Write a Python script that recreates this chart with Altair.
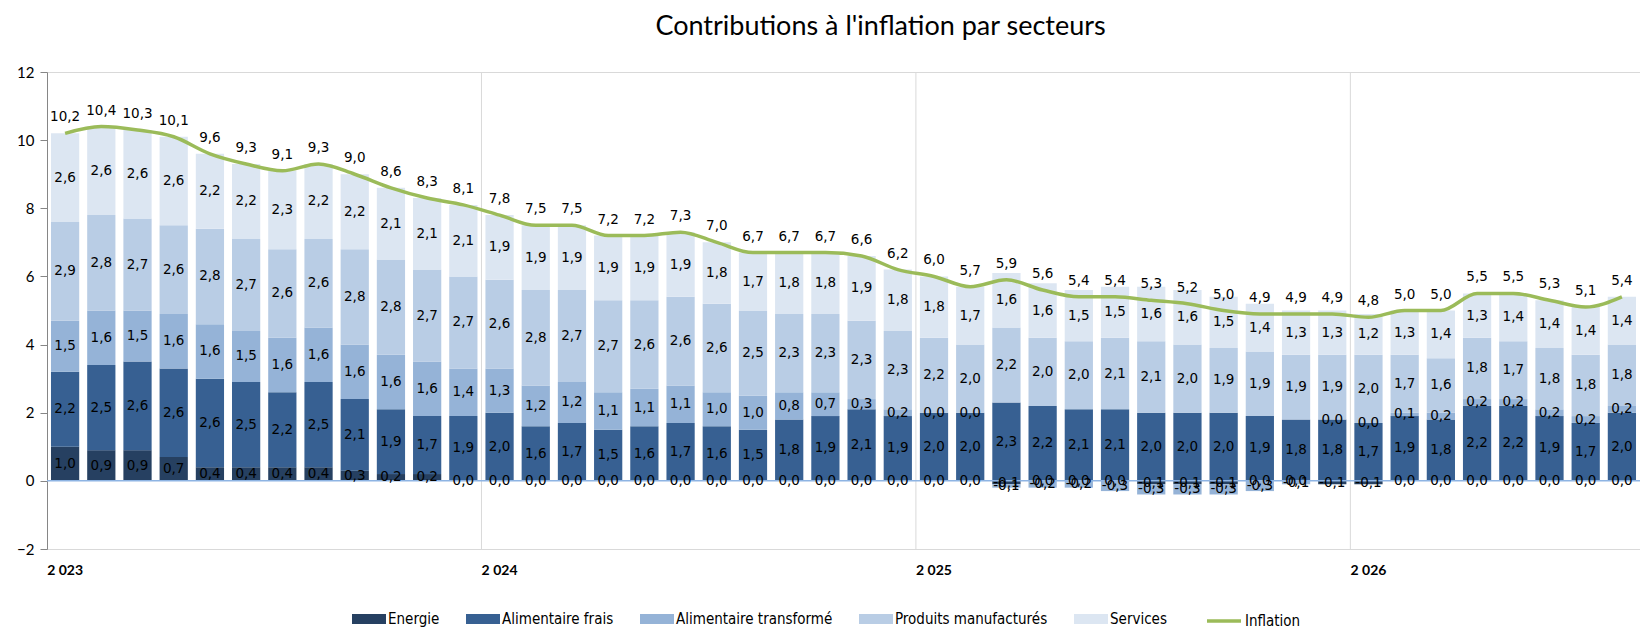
import altair as alt
import pandas as pd

years = [2023, 2024, 2025, 2026]
year_labels = ["2 023", "2 024", "2 025", "2 026"]
months = [f"{y}-{m:02d}" for y in years for m in range(1, 13)][:44]
jan_keys = [f"{y}-01" for y in years]

series_names = ["Energie", "Alimentaire frais", "Alimentaire transformé",
                "Produits manufacturés", "Services"]
series_colors = ["#264061", "#376092", "#95B3D7", "#B9CDE5", "#DCE6F2"]
line_color = "#9BBB59"

energie = [1.0, 0.9, 0.9, 0.7, 0.4, 0.4, 0.4, 0.4, 0.3, 0.2, 0.2, 0.0,
           0.0, 0.0, 0.0, 0.0, 0.0, 0.0, 0.0, 0.0, 0.0, 0.0, 0.0, 0.0,
           0.0, 0.0, -0.1, 0.0, 0.0, 0.0, -0.1, -0.1, -0.1, 0.0, 0.0, -0.1,
           -0.1, 0.0, 0.0, 0.0, 0.0, 0.0, 0.0, 0.0]
frais = [2.2, 2.5, 2.6, 2.6, 2.6, 2.5, 2.2, 2.5, 2.1, 1.9, 1.7, 1.9,
         2.0, 1.6, 1.7, 1.5, 1.6, 1.7, 1.6, 1.5, 1.8, 1.9, 2.1, 1.9,
         2.0, 2.0, 2.3, 2.2, 2.1, 2.1, 2.0, 2.0, 2.0, 1.9, 1.8, 1.8,
         1.7, 1.9, 1.8, 2.2, 2.2, 1.9, 1.7, 2.0]
transforme = [1.5, 1.6, 1.5, 1.6, 1.6, 1.5, 1.6, 1.6, 1.6, 1.6, 1.6, 1.4,
              1.3, 1.2, 1.2, 1.1, 1.1, 1.1, 1.0, 1.0, 0.8, 0.7, 0.3, 0.2,
              0.0, 0.0, -0.1, -0.2, -0.2, -0.3, -0.3, -0.3, -0.3, -0.3, -0.1, 0.0,
              0.0, 0.1, 0.2, 0.2, 0.2, 0.2, 0.2, 0.2]
manuf = [2.9, 2.8, 2.7, 2.6, 2.8, 2.7, 2.6, 2.6, 2.8, 2.8, 2.7, 2.7,
         2.6, 2.8, 2.7, 2.7, 2.6, 2.6, 2.6, 2.5, 2.3, 2.3, 2.3, 2.3,
         2.2, 2.0, 2.2, 2.0, 2.0, 2.1, 2.1, 2.0, 1.9, 1.9, 1.9, 1.9,
         2.0, 1.7, 1.6, 1.8, 1.7, 1.8, 1.8, 1.8]
services = [2.6, 2.6, 2.6, 2.6, 2.2, 2.2, 2.3, 2.2, 2.2, 2.1, 2.1, 2.1,
            1.9, 1.9, 1.9, 1.9, 1.9, 1.9, 1.8, 1.7, 1.8, 1.8, 1.9, 1.8,
            1.8, 1.7, 1.6, 1.6, 1.5, 1.5, 1.6, 1.6, 1.5, 1.4, 1.3, 1.3,
            1.2, 1.3, 1.4, 1.3, 1.4, 1.4, 1.4, 1.4]
inflation = [10.2, 10.4, 10.3, 10.1, 9.6, 9.3, 9.1, 9.3, 9.0, 8.6, 8.3, 8.1,
             7.8, 7.5, 7.5, 7.2, 7.2, 7.3, 7.0, 6.7, 6.7, 6.7, 6.6, 6.2,
             6.0, 5.7, 5.9, 5.6, 5.4, 5.4, 5.3, 5.2, 5.0, 4.9, 4.9, 4.9,
             4.8, 5.0, 5.0, 5.5, 5.5, 5.3, 5.1, 5.4]


def fr(v):
    return f"{v:.1f}".replace(".", ",")


rows = []
for j, (name, vals) in enumerate(zip(series_names, [energie, frais, transforme, manuf, services])):
    for i, m in enumerate(months):
        rows.append({"m": m, "serie": name, "ord": j, "v": vals[i], "txt": fr(vals[i])})
df = pd.DataFrame(rows)
infl_df = pd.DataFrame({"m": months, "v": inflation, "lbl": "Inflation",
                        "txt": [fr(v) for v in inflation]})
grid_df = pd.DataFrame({"m": jan_keys[1:]})
zero_df = pd.DataFrame({"z": [0]})

label_font = "DejaVu Sans"
legend_font = "Liberation Sans Narrow, DejaVu Sans Condensed, sans-serif"

label_expr = ("[" + ",".join(f"'{l}'" for l in year_labels) + "][indexof(["
              + ",".join(f"'{k}'" for k in jan_keys) + "], datum.value)]")

xscale = alt.Scale(domain=months, paddingInner=0, paddingOuter=0)
xaxis = alt.Axis(values=jan_keys, labelExpr=label_expr, labelFont="Lato",
                 labelFontWeight="bold", labelFontSize=14, labelColor="black",
                 ticks=False, domainColor="#D9D9D9", labelPadding=14,
                 labelAngle=0, grid=False, title=None)
yscale = alt.Scale(domain=[-2, 12], nice=False, zero=False)
yaxis = alt.Axis(values=[-2, 0, 2, 4, 6, 8, 10, 12], labelFont="Lato",
                 labelFontSize=15, labelColor="black", tickColor="#868686",
                 tickSize=7, domainColor="#868686", grid=False, title=None,
                 labelPadding=6)

base = alt.Chart(df).transform_stack(
    stack="v", groupby=["m"], as_=["y0", "y1"],
    sort=[alt.SortField("ord", order="ascending")], offset="zero"
).transform_calculate(mid="(datum.y0 + datum.y1) / 2")

year_rules = alt.Chart(grid_df).mark_rule(color="#D9D9D9", strokeWidth=1).encode(
    x=alt.X("m:O", bandPosition=0, scale=xscale, axis=xaxis, title=None)
)

bars = base.mark_bar(width=alt.RelativeBandSize(0.78)).encode(
    x=alt.X("m:O", scale=xscale, axis=xaxis, title=None),
    y=alt.Y("y0:Q", scale=yscale, axis=yaxis, title=None),
    y2="y1:Q",
    color=alt.Color("serie:N",
                    scale=alt.Scale(domain=series_names, range=series_colors),
                    legend=alt.Legend(orient="none", legendX=305, legendY=530,
                                      direction="horizontal", title=None,
                                      symbolType="M-1,-0.3H1V0.3H-1Z",
                                      symbolSize=1156, symbolStrokeWidth=0,
                                      labelFont=legend_font, labelFontSize=15,
                                      labelColor="black", labelOffset=2,
                                      columnPadding=26, labelLimit=400)),
)

zero_line = alt.Chart(zero_df).mark_rule(color="#8EB4E3", strokeWidth=1.5).encode(
    y=alt.Y("z:Q", scale=yscale)
)

seg_text = base.mark_text(font=label_font, fontSize=13.5, color="black").encode(
    x=alt.X("m:O", scale=xscale),
    y=alt.Y("mid:Q", scale=yscale),
    text="txt:N",
)

line = alt.Chart(infl_df).mark_line(interpolate="monotone", strokeWidth=3.5).encode(
    x=alt.X("m:O", scale=xscale),
    y=alt.Y("v:Q", scale=yscale),
    stroke=alt.Stroke("lbl:N",
                      scale=alt.Scale(domain=["Inflation"], range=[line_color]),
                      legend=alt.Legend(orient="none", legendX=1158, legendY=530,
                                        title=None, symbolType="stroke",
                                        symbolSize=1156, symbolStrokeWidth=3.5,
                                        labelFont=legend_font, labelFontSize=15,
                                        labelColor="black", labelOffset=2,
                                        labelLimit=400)),
)

line_text = alt.Chart(infl_df).mark_text(font=label_font, fontSize=13.5, color="black",
                                         baseline="bottom", dy=-9).encode(
    x=alt.X("m:O", scale=xscale),
    y=alt.Y("v:Q", scale=yscale),
    text="txt:N",
)

chart = alt.layer(year_rules, bars, zero_line, seg_text, line, line_text).properties(
    width=1593,
    height=477,
    title=alt.TitleParams("Contributions à l'inflation par secteurs", font="Lato",
                          fontSize=27, fontWeight="normal", anchor="middle",
                          dx=37, offset=24, color="black"),
    autosize=alt.AutoSizeParams(type="none"),
    padding={"left": 39, "top": 64, "right": 0, "bottom": 80},
).configure_view(stroke="#D9D9D9")

chart.save("out.html", embed_options={"renderer": "svg", "actions": False})
